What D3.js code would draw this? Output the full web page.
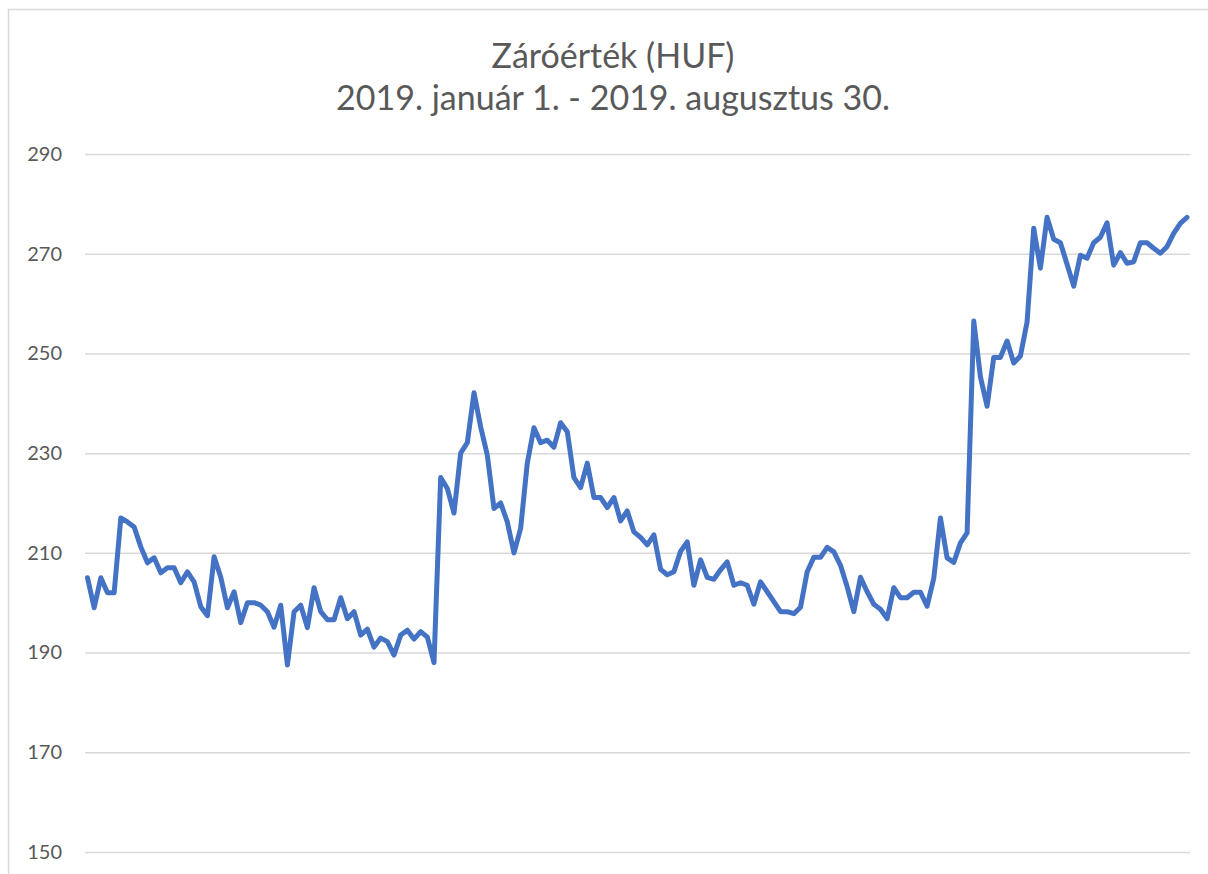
<!DOCTYPE html>
<html>
<head>
<meta charset="utf-8">
<script src="https://d3js.org/d3.v7.min.js"></script>
<style>
body {margin:0; background:#fff;}
text {font-family: Lato, "Open Sans", sans-serif; fill:#595959;}
</style>
</head>
<body>
<svg id="chart" width="1208" height="874"></svg>
<script>
var titleLines = ['Záróérték (HUF)', '2019. január 1. - 2019. augusztus 30.']
var yTicks = [150,170,190,210,230,250,270,290]
// closing value for each trading day
var closeValues = [
  205,199,205,202,202,217,216.2,215.2,211.2,208,
  209,206,207,207,204,206.2,204.2,199.2,197.4,209.2,
  205.1,199,202.2,196,200,200,199.5,198.2,195.1,199.5,
  187.5,198.2,199.5,195,203,198.2,196.6,196.6,201,196.8,
  198.2,193.5,194.7,191.1,192.9,192.2,189.5,193.5,194.5,192.7,
  194.2,193.1,188,225.1,222.9,218,230,232.1,242.1,235.3,
  229.6,218.9,220,216.2,210,214.9,228,235.1,232.1,232.6,
  231.2,236.1,234.3,225.1,223.1,228,221.1,221.1,219.1,221.1,
  216.4,218.4,214.2,213.1,211.6,213.6,206.7,205.6,206.2,210.3,
  212.2,203.5,208.6,205.1,204.7,206.6,208.2,203.5,204,203.5,
  199.7,204.2,202.2,200.2,198.2,198.2,197.8,199.1,206.2,209.1,
  209.1,211.1,210.2,207.5,203.2,198.2,205.1,202.2,199.7,198.7,
  196.8,203,201,201,202.1,202.1,199.3,204.9,217,209,
  208.1,212,214,256.5,245.3,239.4,249.2,249.2,252.5,248.1,
  249.5,256.3,275.1,267.1,277.3,272.9,272.2,267.9,263.5,269.7,
  269.1,272.2,273.3,276.2,267.7,270.2,268.1,268.4,272.2,272.2,
  271.1,270.1,271.4,274.1,276.1,277.3
]

var svg = d3.select('#chart')

// outer frame of the chart area (cut off on the right and bottom)
svg.append('rect')
  .attr('x',8.5).attr('y',9.5)
  .attr('width',1400).attr('height',1000)
  .attr('fill','none')
  .attr('stroke','#d9d9d9')
  .attr('stroke-width',1.5)

var plotLeft = 85, plotRight = 1190, plotTop = 154, plotBottom = 852

var x = d3.scaleLinear().domain([0, closeValues.length-1]).range([87.5, 1187])
var y = d3.scaleLinear().domain([150,290]).range([plotBottom, plotTop])

// title
svg.selectAll('.title')
  .data(titleLines)
  .enter()
  .append('text')
    .attr('class','title')
    .attr('x',613)
    .attr('y',function(d,i) {return 68 + i*42;})
    .attr('text-anchor','middle')
    .style('font-size','34px')
    .text(function(d) {return d;})

// gridlines + labels via axis
var yAxis = svg.append('g')
  .attr('transform','translate('+plotLeft+',0)')
  .call(d3.axisLeft(y).tickValues(yTicks).tickSize(-(plotRight-plotLeft)).tickPadding(23))
yAxis.select('.domain').remove()
yAxis.selectAll('line').attr('stroke','#d9d9d9').attr('stroke-width',1.5)
yAxis.selectAll('text')
  .style('font-size','20px')
  .style('font-family','Lato, "Open Sans", sans-serif')
  .attr('fill','#595959')

// the line
var line = d3.line()
  .x(function(d,i) {return x(i);})
  .y(function(d) {return y(d);})

svg.append('path')
  .datum(closeValues)
  .attr('d',line)
  .attr('fill','none')
  .attr('stroke','#4472C4')
  .attr('stroke-width',5)
  .attr('stroke-linejoin','round')
  .attr('stroke-linecap','round')
</script>
</body>
</html>
